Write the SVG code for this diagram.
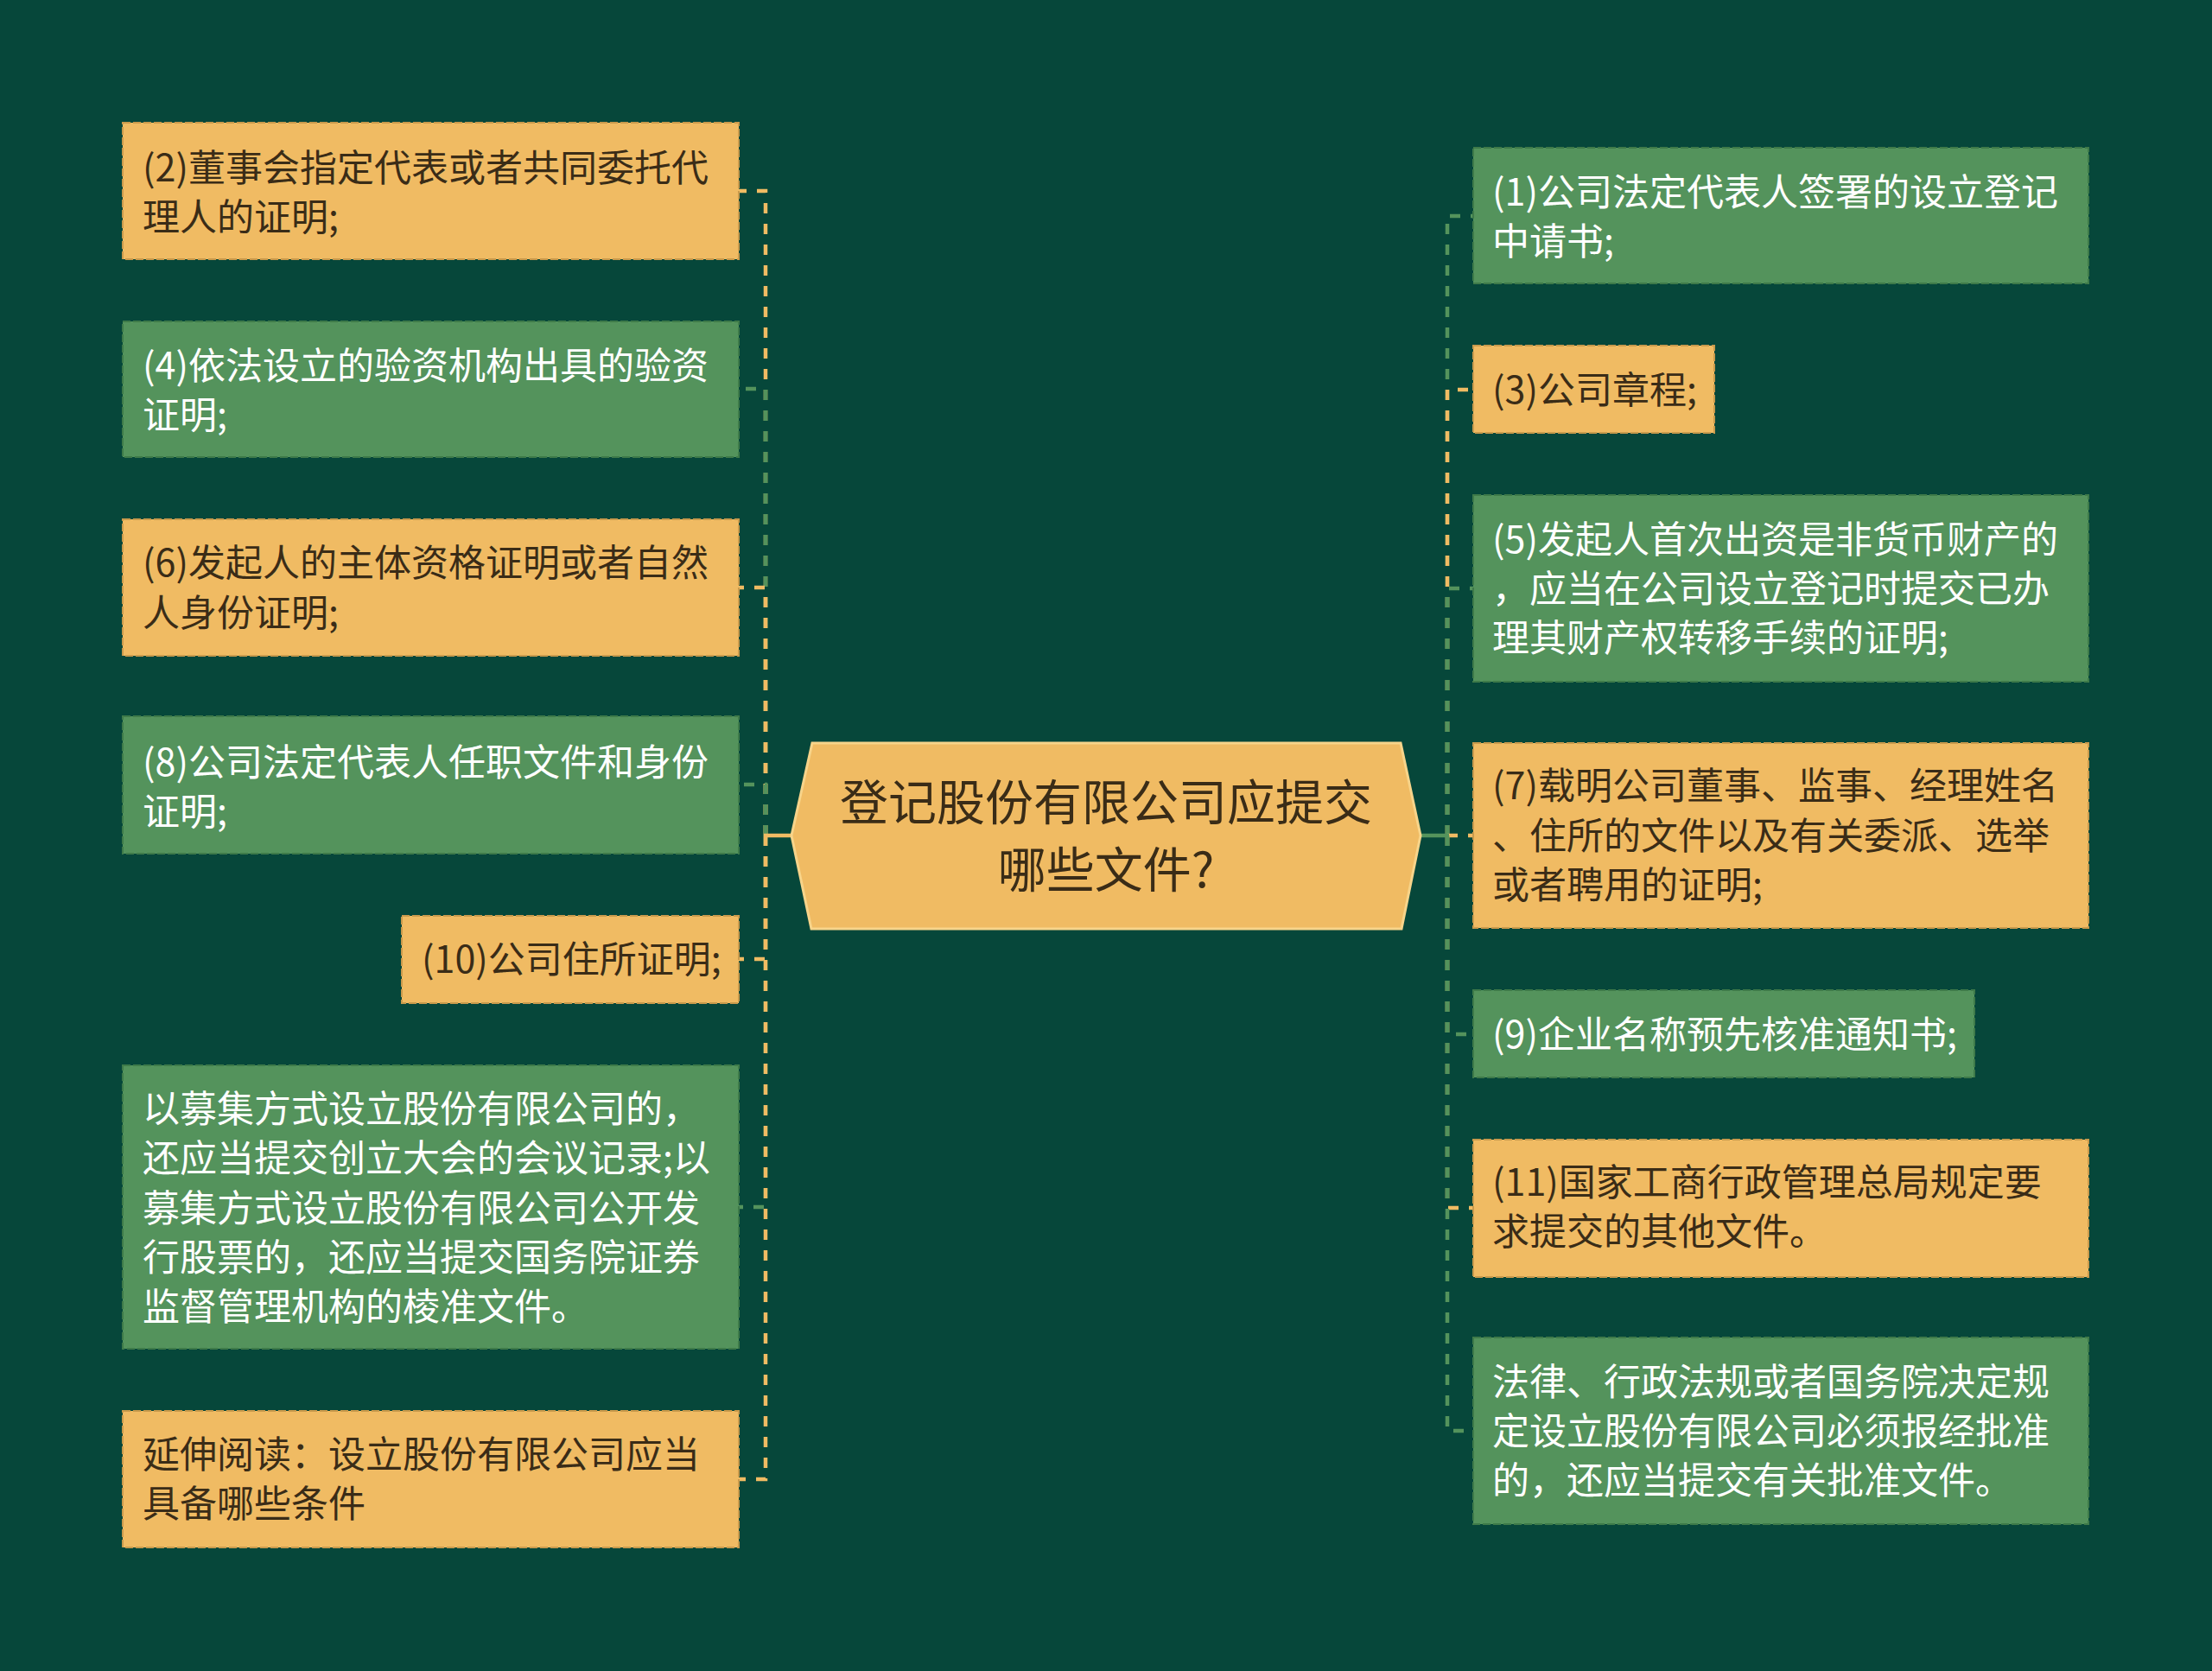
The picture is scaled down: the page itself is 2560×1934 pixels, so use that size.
<svg xmlns="http://www.w3.org/2000/svg" width="2560" height="1934" viewBox="0 0 2560 1934">
<style>
.bg{fill:#06473a}
.o{fill:#f0bb63;stroke:#c99a4c;stroke-width:2;stroke-dasharray:9 3}
.g{fill:#54935c;stroke:#3e7a49;stroke-width:2;stroke-dasharray:9 3}
.t{font-family:"Noto Sans CJK SC","Noto Sans",sans-serif;font-size:43px}
.to{fill:#3a2c17}
.tg{fill:#ffffff}
.c{fill:none;stroke-width:4.5;stroke-dasharray:12 12}
.co{stroke:#f0bb63}
.cg{stroke:#54935c}
.root{fill:#f0bb63;stroke:#f7d48a;stroke-width:3}
.rt{font-family:"Noto Sans CJK SC","Noto Sans",sans-serif;font-size:56px;fill:#3a2c17;text-anchor:middle}
</style>
<rect class="bg" x="0" y="0" width="2560" height="1934"/>
<g id="connectors">
<path class="c co" d="M886 967V221H855"/>
<path class="c cg" d="M886 967V450H855"/>
<path class="c co" d="M886 967V680H855"/>
<path class="c cg" d="M886 967V908H855"/>
<path class="c co" d="M886 967V1110H855"/>
<path class="c cg" d="M886 967V1397H855"/>
<path class="c co" d="M886 967V1712H855"/>
<line x1="916" y1="967" x2="884" y2="967" stroke="#f0bb63" stroke-width="4.5"/>
<path class="c cg" d="M1675 967V250H1705"/>
<path class="c co" d="M1675 967V451H1705"/>
<path class="c cg" d="M1675 967V681H1705"/>
<path class="c co" d="M1675 967H1705"/>
<path class="c cg" d="M1675 967V1197H1705"/>
<path class="c co" d="M1675 967V1398H1705"/>
<path class="c cg" d="M1675 967V1656H1705"/>
<line x1="1643" y1="967" x2="1677" y2="967" stroke="#54935c" stroke-width="4.5"/>
</g>
<g id="root">
<polygon class="root" points="916,967 940,860 1621,860 1644,967 1622,1075 939,1075"/>
<text class="rt" x="1280" y="949">登记股份有限公司应提交</text>
<text class="rt" x="1280" y="1027">哪些文件?</text>
</g>
<g id="n2">
<rect class="o" x="142" y="142" width="713" height="158"/>
<text class="t to" x="165" y="210">(2)董事会指定代表或者共同委托代</text>
<text class="t to" x="165" y="267">理人的证明;</text>
</g>
<g id="n4">
<rect class="g" x="142" y="372" width="713" height="157"/>
<text class="t tg" x="165" y="439">(4)依法设立的验资机构出具的验资</text>
<text class="t tg" x="165" y="496">证明;</text>
</g>
<g id="n6">
<rect class="o" x="142" y="601" width="713" height="158"/>
<text class="t to" x="165" y="667">(6)发起人的主体资格证明或者自然</text>
<text class="t to" x="165" y="725">人身份证明;</text>
</g>
<g id="n8">
<rect class="g" x="142" y="829" width="713" height="159"/>
<text class="t tg" x="165" y="898">(8)公司法定代表人任职文件和身份</text>
<text class="t tg" x="165" y="955">证明;</text>
</g>
<g id="n10">
<rect class="o" x="465" y="1060" width="390" height="101"/>
<text class="t to" x="488" y="1126">(10)公司住所证明;</text>
</g>
<g id="n12">
<rect class="g" x="142" y="1233" width="713" height="328"/>
<text class="t tg" x="165" y="1299">以募集方式设立股份有限公司的，</text>
<text class="t tg" x="165" y="1356">还应当提交创立大会的会议记录;以</text>
<text class="t tg" x="165" y="1414">募集方式设立股份有限公司公开发</text>
<text class="t tg" x="165" y="1471">行股票的，还应当提交国务院证券</text>
<text class="t tg" x="165" y="1528">监督管理机构的棱准文件。</text>
</g>
<g id="n14">
<rect class="o" x="142" y="1633" width="713" height="158"/>
<text class="t to" x="165" y="1699">延伸阅读：设立股份有限公司应当</text>
<text class="t to" x="165" y="1756">具备哪些条件</text>
</g>
<g id="n1">
<rect class="g" x="1705" y="171" width="712" height="157"/>
<text class="t tg" x="1727" y="238">(1)公司法定代表人签署的设立登记</text>
<text class="t tg" x="1727" y="295">中请书;</text>
</g>
<g id="n3">
<rect class="o" x="1705" y="400" width="279" height="101"/>
<text class="t to" x="1727" y="467">(3)公司章程;</text>
</g>
<g id="n5">
<rect class="g" x="1705" y="573" width="712" height="216"/>
<text class="t tg" x="1727" y="640">(5)发起人首次出资是非货币财产的</text>
<text class="t tg" x="1727" y="697">，应当在公司设立登记时提交已办</text>
<text class="t tg" x="1727" y="754">理其财产权转移手续的证明;</text>
</g>
<g id="n7">
<rect class="o" x="1705" y="860" width="712" height="214"/>
<text class="t to" x="1727" y="925">(7)载明公司董事、监事、经理姓名</text>
<text class="t to" x="1727" y="983">、住所的文件以及有关委派、选举</text>
<text class="t to" x="1727" y="1040">或者聘用的证明;</text>
</g>
<g id="n9">
<rect class="g" x="1705" y="1146" width="580" height="101"/>
<text class="t tg" x="1727" y="1213">(9)企业名称预先核准通知书;</text>
</g>
<g id="n11">
<rect class="o" x="1705" y="1319" width="712" height="159"/>
<text class="t to" x="1727" y="1384">(11)国家工商行政管理总局规定要</text>
<text class="t to" x="1727" y="1441">求提交的其他文件。</text>
</g>
<g id="n13">
<rect class="g" x="1705" y="1548" width="712" height="216"/>
<text class="t tg" x="1727" y="1615">法律、行政法规或者国务院决定规</text>
<text class="t tg" x="1727" y="1672">定设立股份有限公司必须报经批准</text>
<text class="t tg" x="1727" y="1729">的，还应当提交有关批准文件。</text>
</g>
</svg>
